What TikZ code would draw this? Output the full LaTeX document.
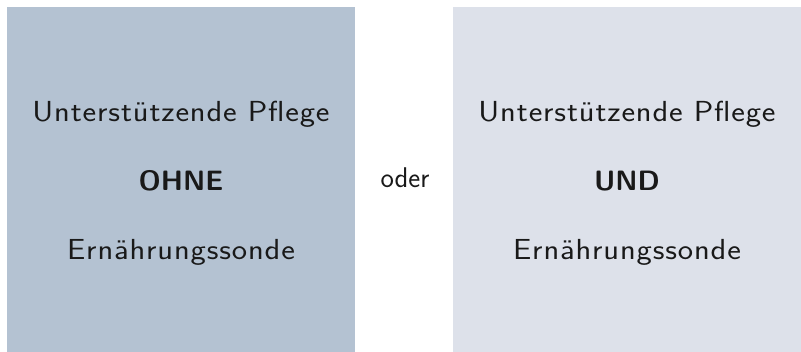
\documentclass[tikz,border=0pt]{standalone}
\usepackage{fontspec}
\setsansfont{Latin Modern Sans}
\newfontfamily\widesans[LetterSpace=3,FakeStretch=1.12]{Latin Modern Sans}
\definecolor{boxdark}{HTML}{B4C2D2}
\definecolor{boxlight}{HTML}{DDE1EA}
\begin{document}
\begin{tikzpicture}[x=1pt,y=-1pt,
  txt/.style={anchor=base,inner sep=0pt,font=\fontsize{29}{34}\selectfont\widesans,text=black!90},
  boldtxt/.style={anchor=base,inner sep=0pt,font=\fontsize{28}{34}\selectfont\sffamily\bfseries,text=black!90},
  ortxt/.style={anchor=base,inner sep=0pt,font=\fontsize{28.5}{34}\selectfont\sffamily,text=black!90}]
\useasboundingbox (0,0) rectangle (801,352);
\fill[boxdark] (7,7) rectangle (355,352);
\fill[boxlight] (453,7) rectangle (801,352);
\node[txt] (l1) at (181,122) {Unterstützende Pflege};
\node[boldtxt] (l2) at (181,191) {OHNE};
\node[txt] (l3) at (181,260) {Ernährungssonde};
\node[ortxt] (or) at (405,188) {oder};
\node[txt] (r1) at (627,122) {Unterstützende Pflege};
\node[boldtxt] (r2) at (627,191) {UND};
\node[txt] (r3) at (627,260) {Ernährungssonde};
\end{tikzpicture}
\end{document}
